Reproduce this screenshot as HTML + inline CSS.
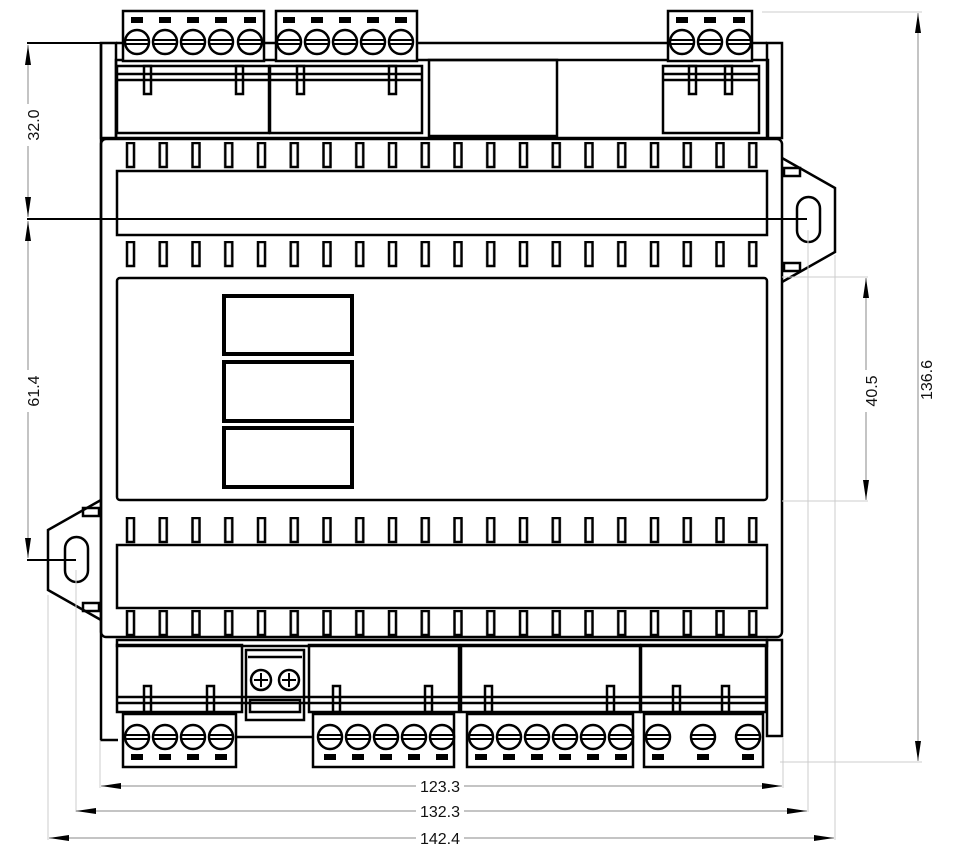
<!DOCTYPE html>
<html><head><meta charset="utf-8"><style>
html,body{margin:0;padding:0;background:#fff;width:960px;height:862px;overflow:hidden}
svg{display:block}
text{font-family:"Liberation Sans",sans-serif;font-size:16px;fill:#111}
</style></head><body>
<svg width="960" height="862" viewBox="0 0 960 862" xmlns="http://www.w3.org/2000/svg">
<defs>
<pattern id="fin" patternUnits="userSpaceOnUse" x="122" y="0" width="32.75" height="900">
<rect x="5" y="1" width="7" height="24" fill="none" stroke="#000" stroke-width="2.5"/>
</pattern>
<g id="scr"><circle r="12" fill="#fff" stroke="#000" stroke-width="2.5"/><line x1="-12" y1="-2" x2="12" y2="-2" stroke="#000" stroke-width="2"/><line x1="-12" y1="2" x2="12" y2="2" stroke="#000" stroke-width="2"/></g>
<marker id="ar" viewBox="0 0 20 8" refX="20" refY="4" markerWidth="20" markerHeight="8" markerUnits="userSpaceOnUse" orient="auto-start-reverse"><path d="M0,1 L20,4 L0,7 Z" fill="#000"/></marker>
</defs>
<g fill="none" stroke="#000" stroke-width="2.5">
<path d="M101,43 V740 H118"/>
<rect x="101" y="43" width="15" height="95"/>
<rect x="767" y="43" width="15" height="95"/>
<line x1="116" y1="43" x2="767" y2="43"/>
<rect x="116" y="60" width="652" height="78"/>
<rect x="117" y="66" width="152" height="67"/>
<rect x="270" y="66" width="152" height="67"/>
<rect x="429" y="60" width="128" height="76"/>
<rect x="663" y="66" width="96" height="67"/>
<line x1="117" y1="74" x2="422" y2="74"/><line x1="117" y1="80" x2="422" y2="80"/>
<line x1="663" y1="74" x2="759" y2="74"/><line x1="663" y1="80" x2="759" y2="80"/>
<rect x="144" y="66" width="7" height="28"/><rect x="236" y="66" width="7" height="28"/>
<rect x="297" y="66" width="7" height="28"/><rect x="389" y="66" width="7" height="28"/>
<rect x="689" y="66" width="7" height="28"/><rect x="725" y="66" width="7" height="28"/>
<rect x="101" y="139" width="681" height="498" rx="5"/>
<rect x="117" y="171" width="650" height="64"/>
<rect x="117" y="278" width="650" height="222" rx="3"/>
<rect x="117" y="545" width="650" height="63"/>
<path d="M782,158 L835,188 V252 L782,282"/>
<rect x="784" y="168" width="16" height="8"/><rect x="784" y="263" width="16" height="8"/>
<rect x="797" y="197" width="23" height="45" rx="11.5"/>
<path d="M101,500 L48,530 V590 L101,620"/>
<rect x="83" y="508" width="16" height="8"/><rect x="83" y="603" width="16" height="8"/>
<rect x="65" y="537" width="23" height="45" rx="11.5"/>
<g stroke-width="4">
<rect x="224" y="296" width="128" height="58"/>
<rect x="224" y="362" width="128" height="59"/>
<rect x="224" y="428" width="128" height="59"/>
</g>
<rect x="117" y="640" width="650" height="6"/>
<rect x="117" y="645" width="125" height="67"/>
<rect x="246" y="650" width="58" height="70"/>
<rect x="309" y="645" width="150" height="67"/>
<rect x="461" y="645" width="179" height="67"/>
<rect x="641" y="645" width="125" height="67"/>
<rect x="767" y="640" width="15" height="96"/>
<line x1="117" y1="697" x2="765" y2="697"/><line x1="117" y1="703" x2="765" y2="703"/>
<rect x="144" y="686" width="7" height="26"/><rect x="207" y="686" width="7" height="26"/>
<rect x="333" y="686" width="7" height="26"/><rect x="425" y="686" width="7" height="26"/>
<rect x="485" y="686" width="7" height="26"/><rect x="607" y="686" width="7" height="26"/>
<rect x="673" y="686" width="7" height="26"/><rect x="722" y="686" width="7" height="26"/>
<rect x="250" y="700" width="50" height="12"/>
<line x1="248" y1="657" x2="302" y2="657"/>
<line x1="236" y1="737" x2="313" y2="737"/>
<rect x="123" y="11" width="141" height="50" fill="#fff"/>
<rect x="276" y="11" width="141" height="50" fill="#fff"/>
<rect x="668" y="11" width="84" height="50" fill="#fff"/>
<rect x="123" y="714" width="113" height="53" fill="#fff"/>
<rect x="313" y="714" width="141" height="53" fill="#fff"/>
<rect x="467" y="714" width="166" height="53" fill="#fff"/>
<rect x="644" y="714" width="119" height="53" fill="#fff"/>
</g>
<g transform="translate(0,142)"><rect x="122" y="0" width="655" height="27" fill="url(#fin)"/></g>
<g transform="translate(0,241)"><rect x="122" y="0" width="655" height="27" fill="url(#fin)"/></g>
<g transform="translate(0,517)"><rect x="122" y="0" width="655" height="27" fill="url(#fin)"/></g>
<g transform="translate(0,610)"><rect x="122" y="0" width="655" height="27" fill="url(#fin)"/></g>
<g fill="#000">
<rect x="131" y="17" width="12" height="6"/><rect x="159" y="17" width="12" height="6"/><rect x="187" y="17" width="12" height="6"/><rect x="215" y="17" width="12" height="6"/><rect x="244" y="17" width="12" height="6"/>
<rect x="283" y="17" width="12" height="6"/><rect x="311" y="17" width="12" height="6"/><rect x="339" y="17" width="12" height="6"/><rect x="367" y="17" width="12" height="6"/><rect x="395" y="17" width="12" height="6"/>
<rect x="676" y="17" width="12" height="6"/><rect x="704" y="17" width="12" height="6"/><rect x="733" y="17" width="12" height="6"/>
<rect x="131" y="754" width="12" height="6"/><rect x="159" y="754" width="12" height="6"/><rect x="187" y="754" width="12" height="6"/><rect x="215" y="754" width="12" height="6"/>
<rect x="324" y="754" width="12" height="6"/><rect x="352" y="754" width="12" height="6"/><rect x="380" y="754" width="12" height="6"/><rect x="408" y="754" width="12" height="6"/><rect x="436" y="754" width="12" height="6"/>
<rect x="475" y="754" width="12" height="6"/><rect x="503" y="754" width="12" height="6"/><rect x="531" y="754" width="12" height="6"/><rect x="559" y="754" width="12" height="6"/><rect x="587" y="754" width="12" height="6"/><rect x="615" y="754" width="12" height="6"/>
<rect x="652" y="754" width="12" height="6"/><rect x="697" y="754" width="12" height="6"/><rect x="742" y="754" width="12" height="6"/>
</g>
<use href="#scr" x="137" y="42"/><use href="#scr" x="165" y="42"/><use href="#scr" x="193" y="42"/><use href="#scr" x="221" y="42"/><use href="#scr" x="250" y="42"/>
<use href="#scr" x="289" y="42"/><use href="#scr" x="317" y="42"/><use href="#scr" x="345" y="42"/><use href="#scr" x="373" y="42"/><use href="#scr" x="401" y="42"/>
<use href="#scr" x="682" y="42"/><use href="#scr" x="710" y="42"/><use href="#scr" x="739" y="42"/>
<use href="#scr" x="137" y="737"/><use href="#scr" x="165" y="737"/><use href="#scr" x="193" y="737"/><use href="#scr" x="221" y="737"/>
<use href="#scr" x="330" y="737"/><use href="#scr" x="358" y="737"/><use href="#scr" x="386" y="737"/><use href="#scr" x="414" y="737"/><use href="#scr" x="442" y="737"/>
<use href="#scr" x="481" y="737"/><use href="#scr" x="509" y="737"/><use href="#scr" x="537" y="737"/><use href="#scr" x="565" y="737"/><use href="#scr" x="593" y="737"/><use href="#scr" x="621" y="737"/>
<use href="#scr" x="658" y="737"/><use href="#scr" x="703" y="737"/><use href="#scr" x="748" y="737"/>
<g fill="#fff" stroke="#000" stroke-width="2.5">
<circle cx="261" cy="680" r="10"/><circle cx="289" cy="680" r="10"/>
</g>
<g stroke="#000" stroke-width="2">
<line x1="254" y1="680" x2="268" y2="680"/><line x1="261" y1="673" x2="261" y2="687"/>
<line x1="282" y1="680" x2="296" y2="680"/><line x1="289" y1="673" x2="289" y2="687"/>
</g>
<g stroke="#000" stroke-width="2">
<line x1="27" y1="43" x2="124" y2="43"/>
<line x1="27" y1="219" x2="807" y2="219"/>
<line x1="27" y1="560" x2="76" y2="560"/>
</g>
<g stroke="#ccc" stroke-width="1">
<line x1="808" y1="230" x2="808" y2="812"/>
<line x1="76" y1="570" x2="76" y2="812"/>
<line x1="48" y1="595" x2="48" y2="840"/>
<line x1="835" y1="255" x2="835" y2="840"/>
<line x1="100" y1="740" x2="100" y2="788"/>
<line x1="783" y1="738" x2="783" y2="788"/>
<line x1="762" y1="12" x2="922" y2="12"/>
<line x1="780" y1="762" x2="922" y2="762"/>
<line x1="782" y1="277" x2="868" y2="277"/>
<line x1="782" y1="501" x2="868" y2="501"/>
</g>
<g stroke="#888" stroke-width="1" fill="none">
<line x1="28" y1="45" x2="28" y2="217" marker-start="url(#ar)" marker-end="url(#ar)"/>
<line x1="28" y1="221" x2="28" y2="558" marker-start="url(#ar)" marker-end="url(#ar)"/>
<line x1="866" y1="278" x2="866" y2="500" marker-start="url(#ar)" marker-end="url(#ar)"/>
<line x1="918" y1="13" x2="918" y2="761" marker-start="url(#ar)" marker-end="url(#ar)"/>
<line x1="101" y1="786" x2="782" y2="786" marker-start="url(#ar)" marker-end="url(#ar)"/>
<line x1="76" y1="811" x2="807" y2="811" marker-start="url(#ar)" marker-end="url(#ar)"/>
<line x1="49" y1="838" x2="834" y2="838" marker-start="url(#ar)" marker-end="url(#ar)"/>
</g>
<g fill="#fff">
<rect x="416" y="777" width="48" height="18"/>
<rect x="416" y="802" width="48" height="18"/>
<rect x="416" y="829" width="48" height="18"/>
<rect x="20" y="104" width="18" height="42"/>
<rect x="20" y="370" width="18" height="42"/>
<rect x="857" y="370" width="18" height="42"/>
</g>
<text x="440" y="792" text-anchor="middle">123.3</text>
<text x="440" y="817" text-anchor="middle">132.3</text>
<text x="440" y="844" text-anchor="middle">142.4</text>
<text transform="translate(39,125) rotate(-90)" text-anchor="middle">32.0</text>
<text transform="translate(39,391) rotate(-90)" text-anchor="middle">61.4</text>
<text transform="translate(877,391) rotate(-90)" text-anchor="middle">40.5</text>
<text transform="translate(932,380) rotate(-90)" text-anchor="middle">136.6</text>
</svg>
</body></html>
